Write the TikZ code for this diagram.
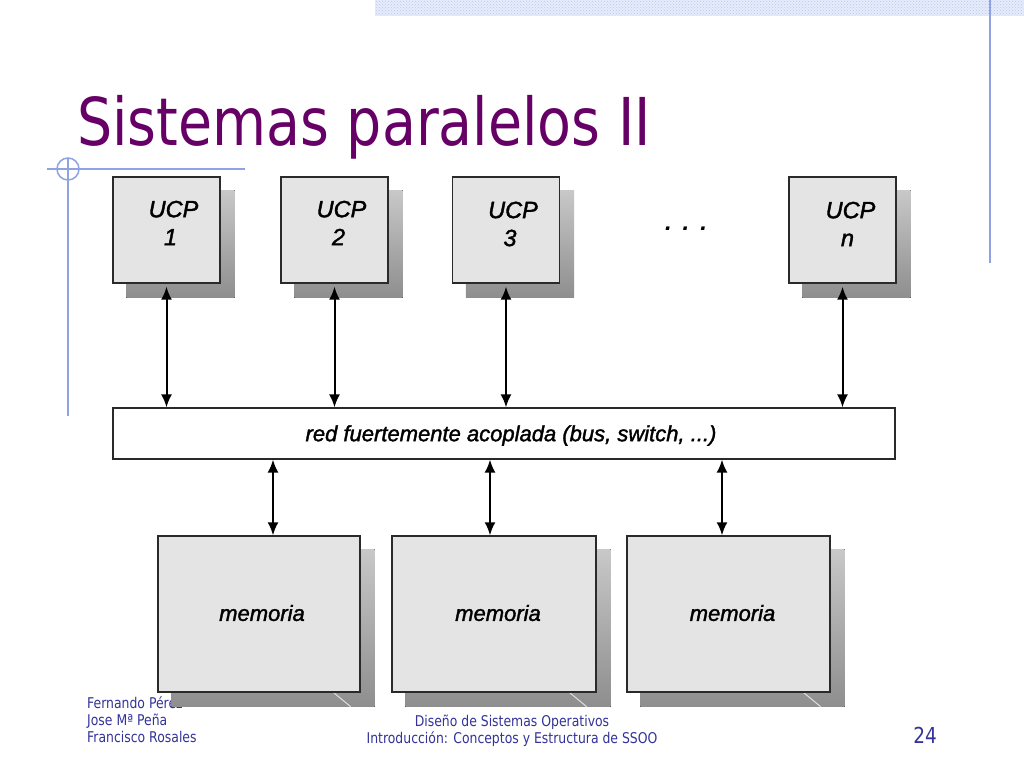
\documentclass[tikz,border=0pt]{standalone}
\usepackage{fontspec}
\setmainfont{Liberation Sans}
\newfontfamily\tahoma[FakeStretch=0.84]{DejaVu Sans}
\newfontface\boxit[FakeBold=1.6]{Liberation Sans Italic}
\newfontface\boxbi{Liberation Sans Bold Italic}
\usetikzlibrary{arrows.meta,calc,backgrounds,patterns}
\definecolor{titlecol}{HTML}{660066}
\definecolor{footcol}{HTML}{333399}
\definecolor{decoblue}{HTML}{8FA3E3}
\definecolor{bandfill}{HTML}{E6ECFB}
\definecolor{banddot}{HTML}{B9C6F0}
\definecolor{boxfill}{HTML}{E4E4E4}
\definecolor{boxline}{HTML}{2A2A2A}
\definecolor{shadowtop}{HTML}{C8C8C8}
\definecolor{shadowbot}{HTML}{8E8E8E}
\begin{document}
\begin{tikzpicture}[x=1pt,y=-1pt,
  ucpbox/.style={draw=boxline,fill=boxfill,line width=1.4pt,minimum width=107pt,minimum height=106pt,inner sep=0pt},
  membox/.style={draw=boxline,fill=boxfill,line width=1.4pt,minimum width=203pt,minimum height=156pt,inner sep=0pt},
  busbox/.style={draw=boxline,fill=white,line width=1.2pt,minimum width=782pt,minimum height=51pt,inner sep=0pt},
  boxtext/.style={font=\boxit\fontsize{23.5}{28}\selectfont,align=center,inner sep=0pt,text=black},
  memtext/.style={font=\boxit\fontsize{22}{26}\selectfont,inner sep=0pt,text=black},
  bustext/.style={font=\boxit\fontsize{22}{26}\selectfont,inner sep=0pt,text=black},
  foottext/.style={font=\tahoma\fontsize{14.8}{17}\selectfont,text=footcol,inner sep=0pt},
  deco/.style={draw=decoblue,line width=1.5pt},
  shadowfill/.style={top color=shadowtop,bottom color=shadowbot,draw=none},
  conn/.style={line width=2pt,{Latex[length=13pt,width=11pt]}-{Latex[length=13pt,width=11pt]}}
]
\useasboundingbox (0,0) rectangle (1024,768);

% title
\node[anchor=base west,inner sep=0pt,text=titlecol,font=\tahoma\fontsize{66}{70}\selectfont] (title) at (77,145) {Sistemas paralelos II};

% CPU boxes
\node[ucpbox,label={[boxtext,xshift=4pt,yshift=7pt]center:{\hspace*{6pt}UCP\\1}}] (u1) at (166.5,230) {};
\node[ucpbox,label={[boxtext,xshift=4pt,yshift=7pt]center:{\hspace*{6pt}UCP\\2}}] (u2) at (334.5,230) {};
\node[ucpbox,label={[boxtext,xshift=4pt,yshift=6pt]center:{\hspace*{6pt}UCP\\3}}] (u3) at (506,230) {};
\node[ucpbox,label={[boxtext,xshift=5pt,yshift=6pt]center:{\hspace*{6pt}UCP\\n}}] (un) at (842.5,230) {};
\node[font=\boxbi\fontsize{24}{28}\selectfont,inner sep=0pt,anchor=base] (dots) at (686,230) {.\hspace{11pt}.\hspace{11pt}.};

% bus
\node[busbox,label={[bustext,xshift=7pt,yshift=-2pt]center:{red fuertemente acoplada (bus, switch, ...)}}] (bus) at (504,433.5) {};

% memory boxes
\node[membox,minimum width=202pt,label={[memtext,xshift=3pt,yshift=1pt]center:{memoria}}] (m1) at (259,614) {};
\node[membox,minimum width=204pt,label={[memtext,xshift=4pt,yshift=1pt]center:{memoria}}] (m2) at (494,614) {};
\node[membox,label={[memtext,xshift=4pt,yshift=1pt]center:{memoria}}] (m3) at (728.5,614) {};

% connectors
\foreach \u in {u1,u2,u3,un}{
  \draw[conn,shorten <=3pt] (\u.south) -- (\u.south |- bus.north);
}
\coordinate (c1) at (273,0);
\coordinate (c2) at (490,0);
\coordinate (c3) at (722,0);
\foreach \c/\m in {c1/m1,c2/m2,c3/m3}{
  \draw[conn] (bus.south -| \c) -- (\m.north -| \c);
}

\begin{pgfonlayer}{background}
  \fill[white] (0,0) rectangle (1024,768);
  % top band
  \fill[bandfill] (375,0) rectangle (1024,16);
  \fill[pattern=crosshatch dots,pattern color=banddot] (375,0) rectangle (1024,16);
  % decorative lines
  \draw[deco] (990,0) -- (990,263);
  \draw[deco] (47,169) -- (245,169);
  \draw[deco] (68,158) -- (68,416);
  \draw[deco] (68,169) circle[radius=11];
  % footer
  \node[foottext,anchor=base west] (f1) at (87,708) {Fernando Pérez};
  \node[foottext,anchor=base west] (f2) at (87,725) {Jose Mª Peña};
  \node[foottext,anchor=base west] (f3) at (87,742) {Francisco Rosales};
  \node[foottext,anchor=base] (f4) at (512,726) {Diseño de Sistemas Operativos};
  \node[foottext,anchor=base] (f5) at (512,743) {Introducción: Conceptos y Estructura de SSOO};
  \node[foottext,anchor=base east,font=\tahoma\fontsize{22}{24}\selectfont] (f6) at (937,743) {24};
  % shadows
  \foreach \b in {u1,u2,u3,un,m1,m2,m3}{
    \fill[shadowfill] ($(\b.north west)+(14,14)$) rectangle ($(\b.south east)+(14,14)$);
  }
  \foreach \b in {m1,m2,m3}{
    \draw[white!75!gray,line width=1pt] ($(\b.south east)+(-27,0)$) -- ($(\b.south east)+(-10,14)$);
  }
\end{pgfonlayer}
\end{tikzpicture}
\end{document}
